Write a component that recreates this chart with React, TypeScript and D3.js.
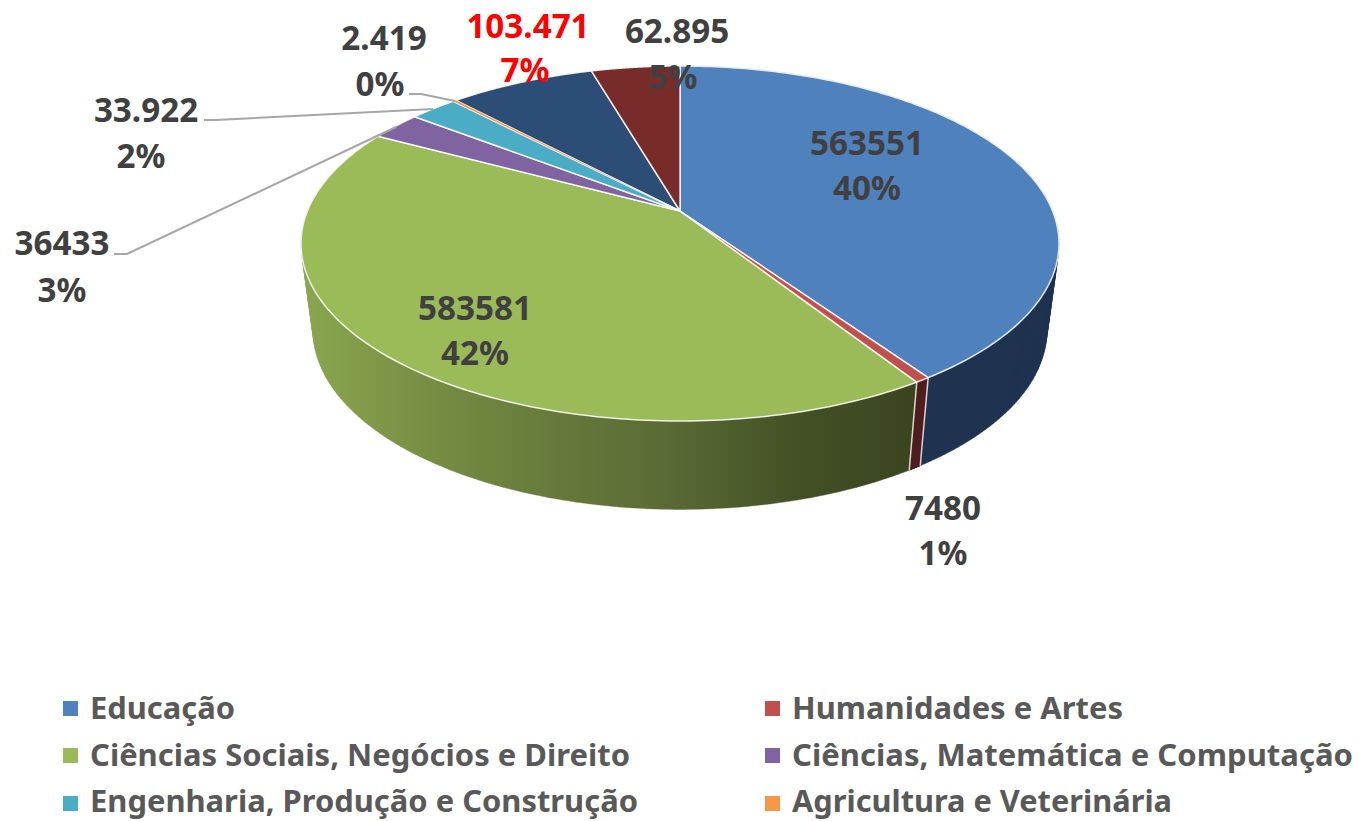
import React from "react";
import * as d3 from "d3";

const categories = ["Educação", "Humanidades e Artes", "Ciências Sociais, Negócios e Direito", "Ciências, Matemática e Computação", "Engenharia, Produção e Construção", "Agricultura e Veterinária", "Saúde e Bem-Estar", "Serviços"];
const values = [563551, 7480, 583581, 36433, 33922, 2419, 103471, 62895];
const valueLabels = ["563551", "7480", "583581", "36433", "33.922", "2.419", "103.471", "62.895"];
const percentLabels = ["40%", "1%", "42%", "3%", "2%", "0%", "7%", "5%"];
const topColors = ["#4f81bd", "#c0504d", "#9bbb59", "#8064a2", "#4bacc6", "#f79646", "#2c4d75", "#772c2a"];
const sideColors = ["#1f3350", "#4f1e1e", "url(#greenSide)", null, null, null, null, null];
const legendCount = 6;

const W = 1359, H = 821;
const CX = 680, APEX_Y = 211;
const K = 372.6, A = 132.9, C = -0.1831;
const BOTTOM_SX = 0.968, BOTTOM_SY = 1.008, TOP_CY = 243, BOTTOM_CY = 330;

const labelPos: [number, number, number, number][] = [
  [867, 154.5, 867, 199.5],
  [943, 519.5, 943, 564.5],
  [475, 319.5, 475, 364.5],
  [62, 254.5, 62, 301.5],
  [146, 121.5, 141, 167.5],
  [384, 49.5, 380, 95.5],
  [528, 37.5, 525, 81.5],
  [677, 42.5, 673, 88.5],
];
const leaders: [number, number][][] = [
  [[114, 254], [127, 254], [396, 127]],
  [[204, 120], [216, 120], [433, 109]],
  [[409, 94], [421, 94], [455, 101]],
];
const legendMarkerY = [701, 748, 796];
const legendBaselines = [719, 766, 812];
const legendCols = [63, 765];
const legendWidths = [145, 331, 540, 561, 548, 380];
const greenStops: [number, string][] = [[0, "#8aa64e"], [0.238, "#738a41"], [0.42, "#66793a"], [0.615, "#586834"], [0.81, "#435025"], [1, "#3a4520"]];

const top = (t: number): [number, number] => {
  const u = Math.sin(t), v = -Math.cos(t), d = 1 + C * v;
  return [CX + (K * u) / d, (A * v + APEX_Y) / d];
};
const bottom = (t: number): [number, number] => {
  const [x, y] = top(t);
  return [CX + (x - CX) * BOTTOM_SX, BOTTOM_CY + (y - TOP_CY) * BOTTOM_SY];
};
const STEPS = 160;
const sample = (a: number, b: number, f: (t: number) => [number, number]) =>
  d3.range(0, STEPS + 1).map((i) => f(a + ((b - a) * i) / STEPS));
const line = d3.line();

// The side wall is a ruled surface: one quad per step, so the straight
// silhouette from the top rim to the bottom rim is part of the fill.
const wallPath = (a: number, b: number) => {
  const t0 = sample(a, b, top), b0 = sample(a, b, bottom);
  return d3.range(0, STEPS).map((i) => {
    const q = [t0[i], t0[i + 1], b0[i + 1], b0[i]] as [number, number][];
    const area = d3.polygonArea(q);
    return (line(area < 0 ? q.reverse() : q) || "") + "Z";
  }).join("");
};

export default function App() {
  const arcs = d3.pie<number>().sort(null).startAngle(0).endAngle(2 * Math.PI)(values);
  const minValue = d3.min(values) as number;
  const drawOrder = d3.range(values.length).sort((p, q) => values[q] - values[p]);
  const font = "'Noto Sans', sans-serif";
  return (
    <svg width={W} height={H} viewBox={`0 0 ${W} ${H}`} style={{ position: "absolute", left: 0, top: 0, display: "block", background: "#fff" }}>
      <defs>
        <linearGradient id="greenSide" gradientUnits="userSpaceOnUse" x1={305} x2={915} y1={0} y2={0}>
          {greenStops.map(([o, c]) => <stop key={o} offset={o} stopColor={c} />)}
        </linearGradient>
      </defs>
      {arcs.map((a, i) =>
        sideColors[i] ? (
          <path key={"s" + i} d={wallPath(a.startAngle, a.endAngle)}
            fill={sideColors[i] as string} stroke={sideColors[i] as string} strokeWidth={0.4} />
        ) : null
      )}
      {arcs.map((a, i) =>
        sideColors[i] ? (
          <path key={"e" + i} d={line([top(a.endAngle), bottom(a.endAngle)]) || ""}
            fill="none" stroke="#fff" strokeOpacity={0.8} strokeWidth={1.5} />
        ) : null
      )}
      {drawOrder.map((i) => {
        const a = arcs[i];
        return (
          <path key={"t" + i}
            d={(line([[CX, APEX_Y], ...sample(a.startAngle, a.endAngle, top)]) || "") + "Z"}
            fill={topColors[i]} stroke="#fff" strokeOpacity={0.85}
            strokeWidth={values[i] === minValue ? 0.3 : 1.5} strokeLinejoin="round" />
        );
      })}
      {leaders.map((l, i) => (
        <path key={"l" + i} d={line(l) || ""} fill="none" stroke="#a6a6a6" strokeWidth={2} />
      ))}
      {arcs.map((_, i) => {
        const [x1, y1, x2, y2] = labelPos[i];
        const color = i === 6 ? "#ff0000" : "#404040";
        return (
          <g key={"x" + i} fontFamily={font} fontWeight={700} fontSize={33.2} fill={color} textAnchor="middle">
            <text x={x1} y={y1}>{valueLabels[i]}</text>
            <text x={x2} y={y2}>{percentLabels[i]}</text>
          </g>
        );
      })}
      {categories.slice(0, legendCount).map((c, i) => {
        const col = legendCols[i % 2], r = Math.floor(i / 2);
        return (
          <g key={"g" + i}>
            <rect x={col} y={legendMarkerY[r]} width={15} height={15} fill={topColors[i]} />
            <text x={col + 27} y={legendBaselines[r]} fontFamily={font} fontWeight={700} fontSize={30} fill="#595959"
              textLength={legendWidths[i]} lengthAdjust="spacingAndGlyphs">{c}</text>
          </g>
        );
      })}
    </svg>
  );
}
